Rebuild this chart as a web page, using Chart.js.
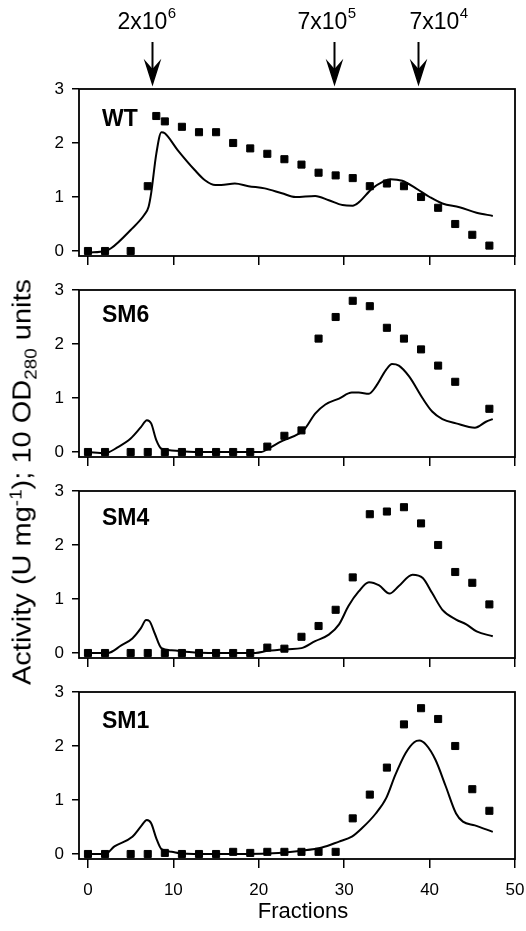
<!DOCTYPE html>
<html><head><meta charset="utf-8">
<script src="https://cdn.jsdelivr.net/npm/chart.js@4.4.1/dist/chart.umd.min.js"></script>
<style>
html,body{margin:0;padding:0;background:#fff;}
body{width:526px;height:931px;position:relative;overflow:hidden;font-family:"Liberation Sans",Arial,Helvetica,sans-serif;color:#000;}
canvas{position:absolute;left:0;}
#ytitle{position:absolute;left:22px;top:482px;transform:translate(-50%,-50%) rotate(-90deg) scaleX(1.16);white-space:nowrap;font-size:25px;line-height:1;}
#xtitle{position:absolute;left:303px;top:911px;transform:translate(-50%,-50%);white-space:nowrap;font-size:22px;line-height:1;}
sup,sub{font-size:65%;line-height:0;}
</style></head><body>
<canvas id="c1"></canvas><canvas id="c2"></canvas><canvas id="c3"></canvas><canvas id="c4"></canvas>
<div id="ytitle">Activity (U mg<sup>-1</sup>); 10 OD<sub>280</sub> units</div>
<div id="xtitle">Fractions</div>
<script>
// ---------- data ----------
const xTicks = [0,10,20,30,40,50];
const yTicks = [0,1,2,3];
const panelNames = ['WT','SM6','SM4','SM1'];
const arrowX = [7.55, 28.8, 38.7];
const arrowBase = ['2x10','7x10','7x10'];
const arrowExp = ['6','5','4'];

// activity (squares)
const wtActX = [0,2,5,7,8,9,11,13,15,17,19,21,23,25,27,29,31,33,35,37,39,41,43,45,47];
const wtActY = [0,0,0,1.2,2.5,2.4,2.3,2.2,2.2,2.0,1.9,1.8,1.7,1.6,1.45,1.4,1.35,1.2,1.25,1.2,1.0,0.8,0.5,0.3,0.1];
const sm6ActX = [0,2,5,7,9,11,13,15,17,19,21,23,25,27,29,31,33,35,37,39,41,43,47];
const sm6ActY = [0,0,0,0,0,0,0,0,0,0,0.1,0.3,0.4,2.1,2.5,2.8,2.7,2.3,2.1,1.9,1.6,1.3,0.8];
const sm4ActX = [0,2,5,7,9,11,13,15,17,19,21,23,25,27,29,31,33,35,37,39,41,43,45,47];
const sm4ActY = [0,0,0,0,0,0,0,0,0,0,0.1,0.08,0.3,0.5,0.8,1.4,2.57,2.62,2.7,2.4,2.0,1.5,1.3,0.9];
const sm1ActX = [0,2,5,7,9,11,13,15,17,19,21,23,25,27,29,31,33,35,37,39,41,43,45,47];
const sm1ActY = [0,0,0,0,0.02,0,0,0,0.04,0.02,0.04,0.04,0.04,0.04,0.04,0.66,1.1,1.6,2.4,2.7,2.5,2.0,1.2,0.8];

// OD280 (lines)
const wtOdX = [0,2,2.7,5,6.6,7.1,7.4,8,8.6,9,10.5,12.5,13.7,14.9,15.6,17.2,18.8,20.7,22.7,24.3,26.6,28.2,29.8,31,31.7,33.3,34.5,35.4,36.8,38.4,40,41.5,43.5,45.5,47.4];
const wtOdY = [-0.03,0,0.05,0.39,0.67,0.82,1.07,1.8,2.2,2.18,1.87,1.5,1.31,1.22,1.22,1.25,1.2,1.16,1.07,1.0,1.02,0.94,0.85,0.84,0.9,1.16,1.28,1.33,1.3,1.16,1.0,0.88,0.81,0.71,0.65];
const sm6OdX = [0,2,3.5,5,6.2,6.9,7.4,8,8.6,9.8,12.5,16.4,20.3,21.1,22.7,24.7,25.4,26.6,27.8,29.4,30.9,31.7,32.9,33.7,34.9,35.6,36.4,37.6,39.2,40.3,41.5,43.1,45.3,46.6,47.4];
const sm6OdY = [0,-0.02,0.09,0.25,0.46,0.59,0.53,0.22,0.06,0.03,0,0,0,0.06,0.2,0.34,0.43,0.71,0.88,0.99,1.1,1.1,1.08,1.21,1.52,1.63,1.6,1.4,0.99,0.75,0.61,0.53,0.45,0.56,0.61];
const sm4OdX = [0,2.3,3.9,5.2,6.2,6.8,7.2,7.8,8.6,9.8,12.5,16.4,19.6,21.1,23.5,25,26.6,28.2,29.4,30.5,31.7,32.9,34.1,35.3,36.4,38,39.2,40.3,41.5,43.1,44.3,45.5,47.4];
const sm4OdY = [0,0,0.14,0.27,0.46,0.61,0.59,0.37,0.09,0.05,0.01,0,0,0.04,0.07,0.09,0.22,0.34,0.53,0.87,1.14,1.31,1.25,1.1,1.24,1.45,1.39,1.11,0.8,0.62,0.53,0.4,0.31];
const sm1OdX = [0,2,3.1,5.2,6.2,6.9,7.4,8,8.6,9.8,10.9,14.5,18.4,22.3,25,27.4,29.4,30.9,32.1,33.7,34.9,36,37.2,38.2,38.8,39.6,40.7,41.9,43.1,43.9,45.3,47.4];
const sm1OdY = [0,0,0.14,0.32,0.51,0.63,0.57,0.29,0.09,0.04,0.01,0,0,0.02,0.06,0.12,0.23,0.32,0.48,0.75,1.03,1.47,1.87,2.07,2.1,2.02,1.74,1.25,0.75,0.6,0.53,0.41];

// ---------- layout ----------
const FONT = '"Liberation Sans", Arial, Helvetica, sans-serif';
const frameTops = [89, 290, 491, 692];
const frameH = 167;
const frameLeft = 79, frameRight = 515;
const labelDy = [37, 32, 34, 36];

const pts = (xs, ys) => xs.map((x, i) => ({x, y: ys[i]}));
const noPad = ax => { ax.paddingLeft = 0; ax.paddingRight = 0; ax.paddingTop = 0; ax.paddingBottom = 0; };

const framePlugin = {
  id: 'frame',
  afterDraw(chart) {
    const {ctx, chartArea: a} = chart;
    ctx.save();
    ctx.strokeStyle = '#000';
    ctx.lineWidth = 1.8;
    ctx.strokeRect(a.left, a.top, a.right - a.left, a.bottom - a.top);
    const o = chart.options.plugins.frame;
    ctx.font = 'bold 23px ' + FONT;
    ctx.fillStyle = '#000';
    ctx.textBaseline = 'alphabetic';
    ctx.fillText(o.name, a.left + 23, a.top + o.dy);
    ctx.restore();
  }
};

const arrowPlugin = {
  id: 'arrows',
  afterDraw(chart) {
    if (!chart.options.plugins.arrows.on) return;
    const ctx = chart.ctx, xs = chart.scales.x;
    const offs = [-6, -8, 20];
    ctx.save();
    ctx.fillStyle = '#000'; ctx.strokeStyle = '#000';
    arrowX.forEach((v, i) => {
      const px = Math.round(xs.getPixelForValue(v)) + 0.5;
      ctx.lineWidth = 2;
      ctx.beginPath(); ctx.moveTo(px, 42); ctx.lineTo(px, 72); ctx.stroke();
      ctx.beginPath();
      ctx.moveTo(px, 84); ctx.lineTo(px - 7, 62); ctx.lineTo(px, 70); ctx.lineTo(px + 7, 62); ctx.closePath();
      ctx.fill();
      ctx.lineWidth = 1.5; ctx.stroke();
      ctx.font = '23px ' + FONT;
      const w1 = ctx.measureText(arrowBase[i]).width;
      ctx.font = '15px ' + FONT;
      const w2 = ctx.measureText(arrowExp[i]).width;
      const start = px + offs[i] - (w1 + w2) / 2;
      ctx.textBaseline = 'alphabetic';
      ctx.font = '23px ' + FONT;
      ctx.fillText(arrowBase[i], start, 29);
      ctx.font = '15px ' + FONT;
      ctx.fillText(arrowExp[i], start + w1 + 0.5, 18);
    });
    ctx.restore();
  }
};

function makePanel(k, actX, actY, odX, odY) {
  const canvas = document.getElementById('c' + (k + 1));
  const bottom = k === 3;
  const canvasTop = k === 0 ? 0 : frameTops[k] - 25;
  const padTop = frameTops[k] - canvasTop;
  const H = bottom ? 60 : 14;
  const h = padTop + frameH + H;
  canvas.width = 526; canvas.height = h;
  canvas.style.width = '526px'; canvas.style.height = h + 'px';
  canvas.style.top = canvasTop + 'px';
  new Chart(canvas, {
    type: 'scatter',
    data: {
      datasets: [
        {data: pts(odX, odY), showLine: true, pointRadius: 0, borderColor: '#000', borderWidth: 2,
         cubicInterpolationMode: 'monotone', fill: false, order: 2},
        {data: pts(actX, actY), pointStyle: 'rect', pointRadius: 5, backgroundColor: '#000',
         borderColor: '#000', borderWidth: 1, order: 1}
      ]
    },
    options: {
      responsive: false, animation: false, devicePixelRatio: 1,
      layout: {padding: {top: padTop, right: 526 - frameRight, left: 0, bottom: 0}, autoPadding: false},
      plugins: {legend: {display: false}, tooltip: {enabled: false},
                frame: {name: panelNames[k], dy: labelDy[k]}, arrows: {on: k === 0}},
      scales: {
        x: {
          type: 'linear', min: -1.05, max: 50,
          afterBuildTicks: ax => { ax.ticks = xTicks.map(v => ({value: v})); },
          afterFit: ax => { ax.height = H; noPad(ax); },
          ticks: {display: bottom, color: '#000', font: {size: 17, family: FONT}, padding: 12,
                  maxRotation: 0, autoSkip: false},
          grid: {drawOnChartArea: false, drawTicks: true, tickLength: 9, color: '#000', lineWidth: 1.5},
          border: {display: false}
        },
        y: {
          type: 'linear', min: -0.0926, max: 3,
          afterBuildTicks: ax => { ax.ticks = yTicks.map(v => ({value: v})); },
          afterFit: ax => { ax.width = frameLeft; noPad(ax); },
          ticks: {color: '#000', font: {size: 17, family: FONT}, padding: 8},
          grid: {drawOnChartArea: false, drawTicks: true, tickLength: 7, color: '#000', lineWidth: 1.5},
          border: {display: false}
        }
      }
    },
    plugins: [framePlugin, arrowPlugin]
  });
}

makePanel(0, wtActX, wtActY, wtOdX, wtOdY);
makePanel(1, sm6ActX, sm6ActY, sm6OdX, sm6OdY);
makePanel(2, sm4ActX, sm4ActY, sm4OdX, sm4OdY);
makePanel(3, sm1ActX, sm1ActY, sm1OdX, sm1OdY);
</script>
</body></html>
